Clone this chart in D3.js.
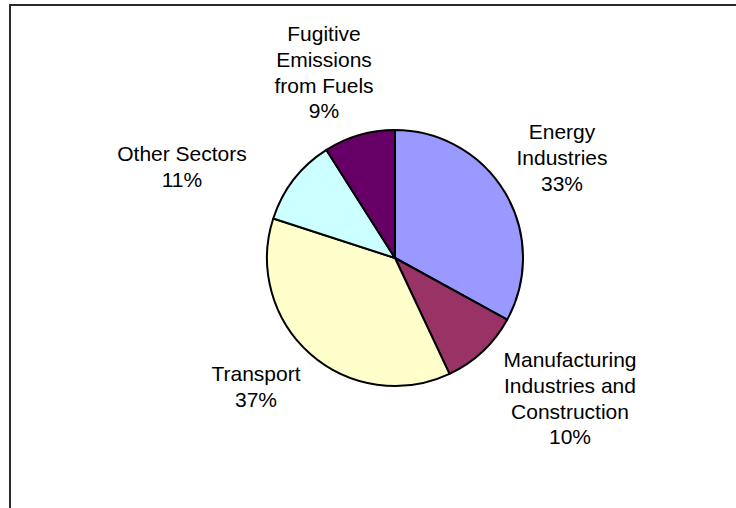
<!DOCTYPE html>
<html>
<head>
<meta charset="utf-8">
<script src="https://cdn.jsdelivr.net/npm/d3@7/dist/d3.min.js"></script>
<style>
  html, body { margin: 0; padding: 0; background: #fff; }
  svg { display: block; }
  text { font-family: "Liberation Sans", Arial, sans-serif; fill: #000; }
</style>
</head>
<body>
<svg id="chart" width="736" height="508"></svg>
<script>
// Emission shares by sector, clockwise from 12 o'clock
const sectors = ["Energy Industries", "Manufacturing Industries and Construction", "Transport", "Other Sectors", "Fugitive Emissions from Fuels"];
const shares = [33, 10, 37, 11, 9];
const colours = ["#9999FF", "#993366", "#FFFFCC", "#CCFFFF", "#660066"];
// Label text split into lines
const labelLines = [
  ["Energy", "Industries"],
  ["Manufacturing", "Industries and", "Construction"],
  ["Transport"],
  ["Other Sectors"],
  ["Fugitive", "Emissions", "from Fuels"]
];
// Label anchor (centre x, first baseline y)
const labelPos = [
  [562, 139],
  [570, 367],
  [256, 381],
  [182, 161],
  [324, 41]
];

const svg = d3.select("#chart");
const cx = 395, cy = 258, r = 128;
const lineH = 25.8;

// Chart frame (extends past the window on the right and bottom)
svg.append("rect")
  .attr("x", 10).attr("y", 5)
  .attr("width", 800).attr("height", 600)
  .attr("fill", "none")
  .attr("stroke", "#2a2a2a")
  .attr("stroke-width", 2);

const data = sectors.map((s, i) => ({ name: s, value: shares[i], colour: colours[i], lines: labelLines[i], pos: labelPos[i] }));

const pie = d3.pie().value(d => d.value).sort(null);
const arc = d3.arc().innerRadius(0).outerRadius(r);

const g = svg.append("g").attr("transform", `translate(${cx},${cy})`);
g.selectAll("path")
  .data(pie(data))
  .join("path")
  .attr("d", arc)
  .attr("fill", d => d.data.colour)
  .attr("stroke", "#000")
  .attr("stroke-width", 2)
  .attr("stroke-linejoin", "round");

const labels = svg.append("g").selectAll("text")
  .data(data)
  .join("text")
  .attr("text-anchor", "middle")
  .attr("font-size", "21px");

labels.each(function(d) {
  const t = d3.select(this);
  const lines = d.lines.concat([d.value + "%"]);
  lines.forEach((ln, k) => {
    t.append("tspan")
      .attr("x", d.pos[0])
      .attr("y", d.pos[1] + k * lineH)
      .text(ln);
  });
});
</script>
</body>
</html>
